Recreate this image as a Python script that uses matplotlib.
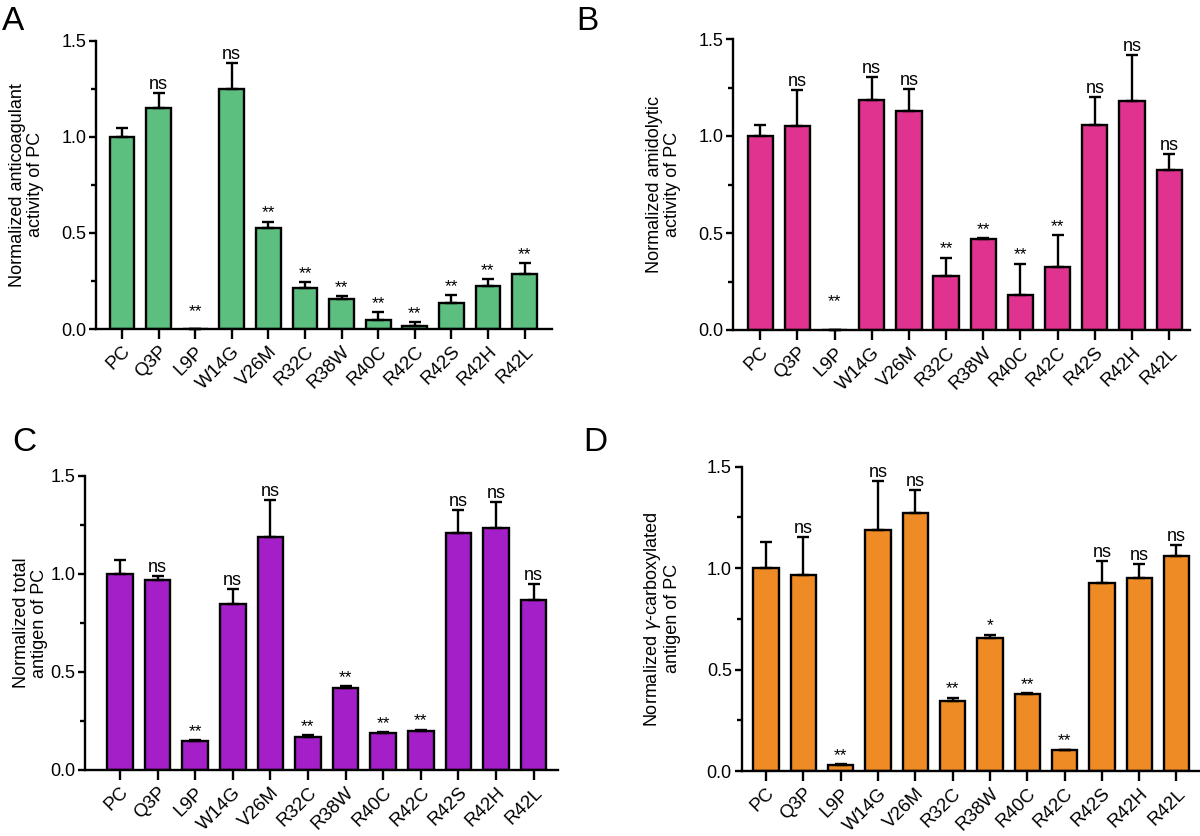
import matplotlib
matplotlib.use('Agg')
import matplotlib.pyplot as plt
from matplotlib.ticker import MultipleLocator, FormatStrFormatter
import numpy as np

plt.rcParams['font.family'] = ['Liberation Sans', 'DejaVu Sans']
plt.rcParams['mathtext.fontset'] = 'dejavusans'

categories = ["PC", "Q3P", "L9P", "W14G", "V26M", "R32C", "R38W", "R40C", "R42C", "R42S", "R42H", "R42L"]

anticoag_mean = [1.00, 1.15, 0.0, 1.248, 0.525, 0.212, 0.155, 0.048, 0.015, 0.136, 0.224, 0.284]
anticoag_err = [0.045, 0.075, 0.0, 0.134, 0.033, 0.031, 0.014, 0.038, 0.019, 0.040, 0.034, 0.057]
anticoag_sig = ["", "ns", "**", "ns", "**", "**", "**", "**", "**", "**", "**", "**"]

amido_mean = [1.00, 1.05, 0.0, 1.187, 1.131, 0.277, 0.467, 0.181, 0.325, 1.055, 1.182, 0.826]
amido_err = [0.055, 0.185, 0.0, 0.118, 0.109, 0.094, 0.005, 0.161, 0.164, 0.147, 0.234, 0.080]
amido_sig = ["", "ns", "**", "ns", "ns", "**", "**", "**", "**", "ns", "ns", "ns"]

total_mean = [1.00, 0.968, 0.146, 0.845, 1.19, 0.170, 0.420, 0.187, 0.200, 1.207, 1.235, 0.867]
total_err = [0.071, 0.022, 0.005, 0.080, 0.186, 0.007, 0.007, 0.005, 0.004, 0.118, 0.134, 0.084]
total_sig = ["", "ns", "**", "ns", "ns", "**", "**", "**", "**", "ns", "ns", "ns"]

gamma_mean = [1.00, 0.964, 0.030, 1.188, 1.270, 0.345, 0.657, 0.378, 0.102, 0.927, 0.951, 1.060]
gamma_err = [0.128, 0.188, 0.003, 0.240, 0.115, 0.015, 0.015, 0.005, 0.002, 0.110, 0.071, 0.055]
gamma_sig = ["", "ns", "**", "ns", "ns", "**", "*", "**", "**", "ns", "ns", "ns"]

yticks = [0.0, 0.5, 1.0, 1.5]

panels = [
    dict(letter="A", mean=anticoag_mean, err=anticoag_err, sig=anticoag_sig, color="#5CBF7F",
         ylabel="Normalized anticoagulant\nactivity of PC",
         rect=[96, 40.5, 552, 329], xlim=(-0.71, 11.75), labx=-0.114, zero_off=17,
         letter_xy=(2, 6)),
    dict(letter="B", mean=amido_mean, err=amido_err, sig=amido_sig, color="#E0338F",
         ylabel="Normalized amidolytic\nactivity of PC",
         rect=[733, 39, 1190, 330], xlim=(-0.73, 11.56), labx=-0.114, zero_off=28,
         letter_xy=(576, 6)),
    dict(letter="C", mean=total_mean, err=total_err, sig=total_sig, color="#A41FC8",
         ylabel="Normalized total\nantigen of PC",
         rect=[85, 476, 558, 770], xlim=(-0.93, 11.65), labx=-0.078, zero_off=9,
         letter_xy=(12, 427)),
    dict(letter="D", mean=gamma_mean, err=gamma_err, sig=gamma_sig, color="#EE8B24",
         ylabel="Normalized $\\gamma$-carboxylated\nantigen of PC",
         rect=[741.5, 466.7, 1200, 771], xlim=(-0.66, 11.63), labx=-0.132, zero_off=9,
         letter_xy=(583, 427)),
]

W, H = 1200, 836
fig = plt.figure(figsize=(W / 100, H / 100), dpi=100)

for p in panels:
    l, t, r, b = p["rect"]
    ax = fig.add_axes([l / W, 1 - b / H, (r - l) / W, (b - t) / H])
    x = np.arange(len(categories))
    mean = np.array(p["mean"])
    err = np.array(p["err"])
    ax.bar(x, mean, width=0.68, color=p["color"], edgecolor="black", linewidth=1.7, zorder=2)
    ax.errorbar(x, mean, yerr=[np.zeros_like(err), err], fmt="none", ecolor="black",
                elinewidth=1.7, capsize=4.5, capthick=1.7, zorder=3, clip_on=False)
    for i, s in enumerate(p["sig"]):
        if not s:
            continue
        top = mean[i] + err[i]
        if s.startswith("*"):
            off = p["zero_off"] if mean[i] == 0 else 9
            ax.annotate(s, xy=(i, top), xytext=(0, off), textcoords="offset pixels",
                        ha="center", va="center", fontsize=12.5, annotation_clip=False)
        else:
            ax.annotate(s, xy=(i, top), xytext=(0, 4), textcoords="offset pixels",
                        ha="center", va="baseline", fontsize=13, annotation_clip=False)
    ax.set_ylim(0, 1.5)
    ax.set_xlim(*p["xlim"])
    ax.set_yticks(yticks)
    ax.yaxis.set_major_formatter(FormatStrFormatter("%.1f"))
    ax.yaxis.set_minor_locator(MultipleLocator(0.25))
    ax.set_xticks(x)
    ax.set_xticklabels(categories, rotation=45, ha="right", rotation_mode="anchor")
    for sp in ["top", "right"]:
        ax.spines[sp].set_visible(False)
    for sp in ["left", "bottom"]:
        ax.spines[sp].set_linewidth(1.7)
    ax.tick_params(axis="y", which="major", length=5, width=1.7, labelsize=13, pad=2)
    ax.tick_params(axis="y", which="minor", length=3.5, width=1.7)
    ax.tick_params(axis="x", which="major", length=7, width=1.7, labelsize=13.5, pad=3)
    ax.set_ylabel(p["ylabel"], fontsize=13, linespacing=1.1)
    ax.yaxis.set_label_coords(p["labx"], 0.5)
    fig.text(p["letter_xy"][0] / W, 1 - p["letter_xy"][1] / H, p["letter"],
             fontsize=24, ha="left", va="top")

fig.savefig("out.png", dpi=100)
